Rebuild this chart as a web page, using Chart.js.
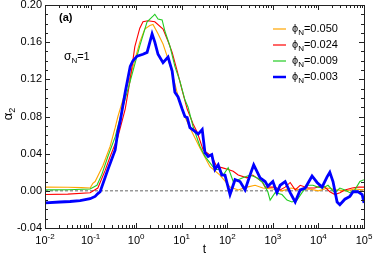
<!DOCTYPE html>
<html>
<head>
<meta charset="utf-8">
<script src="https://cdn.jsdelivr.net/npm/chart.js@4/dist/chart.umd.min.js"></script>
<style>
  body { margin: 0; background: #fff; }
  canvas { display: block; }
</style>
</head>
<body>
<canvas id="alpha-chart" width="374" height="258"></canvas>
<script>
// values: log10(t) and alpha_2 for each phi_N
const phiLabels = ["0.050", "0.024", "0.009", "0.003"];
const lineColors = ["#ffa500", "#ff0000", "#22cc22", "#0000ff"];

const logT050 = [-2, -1.5, -1.2, -1.01, -0.95, -0.90, -0.73, -0.57, -0.46, -0.40, -0.29, -0.13, 0.08, 0.19, 0.30, 0.37, 0.48, 0.59, 0.70, 0.81, 0.92, 1.03, 1.18, 1.40, 1.62, 1.84, 2.06, 2.24, 2.43, 2.61, 2.78, 3.0, 3.2, 3.4, 3.6, 3.8, 4.0, 4.2, 4.4, 4.6, 4.8, 5.0];
const alpha050 = [0.004, 0.0038, 0.0035, 0.003, 0.008, 0.010, 0.027, 0.048, 0.068, 0.080, 0.098, 0.123, 0.160, 0.174, 0.178, 0.179, 0.169, 0.158, 0.142, 0.123, 0.102, 0.084, 0.068, 0.046, 0.026, 0.017, 0.004, 0.001, 0.004, 0.006, 0.003, 0.002, 0.000, 0.003, 0.001, 0.002, 0.000, 0.003, 0.001, 0.000, 0.002, 0.001];

const logT024 = [-2, -1.5, -1.01, -0.84, -0.68, -0.57, -0.40, -0.24, -0.13, -0.03, 0.08, 0.15, 0.26, 0.41, 0.59, 0.70, 0.79, 0.90, 1.01, 1.12, 1.25, 1.34, 1.47, 1.66, 1.77, 1.88, 2.02, 2.13, 2.24, 2.43, 2.56, 2.76, 2.83, 3.05, 3.16, 3.27, 3.38, 3.49, 3.60, 3.77, 3.92, 4.10, 4.25, 4.36, 4.47, 4.58, 4.74, 4.87, 5.0];
const alpha024 = [-0.004, -0.0035, -0.002, 0.003, 0.022, 0.037, 0.058, 0.088, 0.120, 0.155, 0.175, 0.182, 0.183, 0.182, 0.174, 0.161, 0.149, 0.129, 0.108, 0.088, 0.072, 0.063, 0.044, 0.037, 0.026, 0.025, 0.023, 0.021, 0.017, 0.014, 0.017, 0.010, 0.004, 0.004, 0.001, 0.004, 0.009, 0.001, 0.006, 0.003, 0.003, 0.006, -0.001, -0.004, -0.002, 0.001, 0.003, 0.004, 0.004];

const logT009 = [-2, -1.5, -1.01, -0.86, -0.75, -0.62, -0.46, -0.29, -0.13, 0.08, 0.24, 0.37, 0.41, 0.48, 0.57, 0.63, 0.74, 0.85, 0.96, 1.07, 1.14, 1.25, 1.40, 1.51, 1.62, 1.73, 1.84, 1.91, 2.02, 2.13, 2.24, 2.34, 2.50, 2.65, 2.78, 2.89, 2.94, 3.05, 3.20, 3.31, 3.42, 3.53, 3.64, 3.77, 3.88, 3.99, 4.10, 4.21, 4.36, 4.47, 4.58, 4.69, 4.80, 4.91, 5.0];
const alpha009 = [0.001, 0.0012, 0.002, 0.006, 0.018, 0.037, 0.058, 0.090, 0.118, 0.156, 0.182, 0.188, 0.190, 0.185, 0.184, 0.172, 0.156, 0.134, 0.118, 0.098, 0.090, 0.069, 0.048, 0.037, 0.030, 0.023, 0.023, 0.017, 0.025, 0.010, 0.012, 0.014, 0.017, 0.014, 0.009, -0.001, -0.010, -0.002, -0.004, -0.010, -0.012, -0.010, -0.002, 0.006, 0.006, 0.004, 0.003, 0.006, -0.002, 0.003, 0.001, -0.002, 0.001, 0.010, 0.012];

const logT003 = [-2, -1.67, -1.45, -1.23, -1.01, -0.90, -0.84, -0.79, -0.62, -0.46, -0.40, -0.35, -0.24, -0.13, -0.07, 0.02, 0.15, 0.24, 0.35, 0.41, 0.48, 0.59, 0.70, 0.79, 0.85, 0.92, 1.01, 1.07, 1.12, 1.18, 1.29, 1.36, 1.45, 1.51, 1.58, 1.66, 1.73, 1.80, 1.88, 1.95, 2.06, 2.17, 2.28, 2.39, 2.50, 2.58, 2.72, 2.83, 2.89, 3.00, 3.09, 3.16, 3.27, 3.38, 3.49, 3.60, 3.71, 3.86, 3.97, 4.08, 4.19, 4.25, 4.32, 4.41, 4.47, 4.58, 4.69, 4.76, 4.87, 4.96, 5.00];
const alpha003 = [-0.013, -0.012, -0.0115, -0.0105, -0.0085, -0.006, -0.003, -0.001, 0.023, 0.044, 0.064, 0.075, 0.106, 0.134, 0.140, 0.145, 0.147, 0.149, 0.169, 0.160, 0.147, 0.138, 0.144, 0.129, 0.106, 0.101, 0.088, 0.080, 0.079, 0.068, 0.064, 0.061, 0.066, 0.041, 0.037, 0.039, 0.023, 0.028, 0.017, 0.017, -0.004, 0.012, 0.010, 0.001, 0.017, 0.028, 0.014, 0.010, 0.005, 0.010, -0.002, 0.006, 0.010, -0.002, -0.012, 0.001, 0.003, 0.016, 0.009, 0.004, 0.015, 0.020, 0.010, -0.012, -0.015, -0.009, -0.006, -0.001, -0.001, -0.004, -0.013];

// axis ticks
const xExponents = [-2, -1, 0, 1, 2, 3, 4, 5];
const yTickValues = [-0.04, 0, 0.04, 0.08, 0.12, 0.16, 0.2];
const yTickLabels = ["-0.04", "0.00", "0.04", "0.08", "0.12", "0.16", "0.20"];

const FONT = "'Liberation Sans', Arial, Helvetica, sans-serif";

function toPoints(logT, values) {
  return logT.map((lt, i) => ({ x: Math.pow(10, lt), y: values[i] }));
}

const series = [
  toPoints(logT050, alpha050),
  toPoints(logT024, alpha024),
  toPoints(logT009, alpha009),
  toPoints(logT003, alpha003),
];

// text with a subscript (or superscript when shift < 0)
function drawScripted(ctx, parts, x, y, align) {
  let width = 0;
  parts.forEach((p) => {
    ctx.font = p.font;
    p.w = ctx.measureText(p.text).width;
    width += p.w;
  });
  let cx = align === "center" ? x - width / 2 : align === "right" ? x - width : x;
  parts.forEach((p) => {
    ctx.font = p.font;
    ctx.textAlign = "left";
    ctx.fillText(p.text, cx, y + (p.shift || 0));
    cx += p.w;
  });
}

const framePlugin = {
  id: "frame",
  afterDraw(chart) {
    const { ctx, chartArea: a, scales } = chart;
    const x = scales.x;
    const y = scales.y;
    ctx.save();
    ctx.strokeStyle = "#222";
    ctx.lineWidth = 1;
    ctx.strokeRect(Math.round(a.left) + 0.5, Math.round(a.top) + 0.5,
      Math.round(a.right - a.left), Math.round(a.bottom - a.top));

    ctx.beginPath();
    // x ticks, major and log minors, bottom and top
    xExponents.forEach((e) => {
      for (let m = 1; m <= 9; m++) {
        if (e === 5 && m > 1) break;
        const px = Math.round(x.getPixelForValue(m * Math.pow(10, e))) + 0.5;
        const len = m === 1 ? 5 : 3;
        ctx.moveTo(px, a.bottom);
        ctx.lineTo(px, a.bottom - len);
        ctx.moveTo(px, a.top);
        ctx.lineTo(px, a.top + len);
      }
    });
    // y ticks every 0.01, major every 0.04
    for (let i = 0; i <= 24; i++) {
      const v = -0.04 + i * 0.01;
      const py = Math.round(y.getPixelForValue(v)) + 0.5;
      const len = i % 4 === 0 ? 5 : 3;
      ctx.moveTo(a.left, py);
      ctx.lineTo(a.left + len, py);
      ctx.moveTo(a.right, py);
      ctx.lineTo(a.right - len, py);
    }
    ctx.stroke();

    ctx.fillStyle = "#000";
    ctx.textBaseline = "middle";
    // y labels
    ctx.font = "11px " + FONT;
    ctx.textAlign = "right";
    yTickValues.forEach((v, i) => {
      ctx.fillText(yTickLabels[i], a.left - 3, y.getPixelForValue(v));
    });
    // x labels 10^e
    ctx.textBaseline = "alphabetic";
    xExponents.forEach((e) => {
      const px = x.getPixelForValue(Math.pow(10, e));
      drawScripted(ctx, [
        { text: "10", font: "11px " + FONT },
        { text: e < 0 ? "-" + Math.abs(e) : String(e), font: "8px " + FONT, shift: -5 },
      ], px, a.bottom + 16, "center");
    });

    // axis titles
    ctx.font = "12px " + FONT;
    ctx.textAlign = "center";
    ctx.fillText("t", (a.left + a.right) / 2, 253);
    ctx.save();
    ctx.translate(12, 114);
    ctx.rotate(-Math.PI / 2);
    ctx.textBaseline = "alphabetic";
    drawScripted(ctx, [
      { text: "\u03b1", font: "13px " + FONT },
      { text: "2", font: "9px " + FONT, shift: 3 },
    ], 0, 0, "center");
    ctx.restore();

    // panel tag and sigma label
    ctx.textBaseline = "middle";
    ctx.font = "bold 11px " + FONT;
    ctx.textAlign = "left";
    ctx.fillText("(a)", 59, 18);
    drawScripted(ctx, [
      { text: "\u03c3", font: "12px " + FONT },
      { text: "N", font: "8px " + FONT, shift: 4 },
      { text: "=1", font: "11px " + FONT },
    ], 64, 57, "left");

    // legend
    phiLabels.forEach((lab, i) => {
      const ly = 29 + i * 16;
      ctx.strokeStyle = lineColors[i];
      ctx.lineWidth = i === 3 ? 2.5 : 1.2;
      ctx.beginPath();
      ctx.moveTo(273, ly);
      ctx.lineTo(286, ly);
      ctx.stroke();
      drawScripted(ctx, [
        { text: "\u03d5", font: "11px " + FONT },
        { text: "N", font: "8px " + FONT, shift: 4 },
        { text: "=" + lab, font: "11px " + FONT },
      ], 292, ly, "left");
    });
    ctx.restore();
  },
};

const datasets = series.map((pts, i) => ({
  label: "phi_N=" + phiLabels[i],
  data: pts,
  borderColor: lineColors[i],
  borderWidth: i === 3 ? 2.8 : 1.1,
  pointRadius: 0,
  tension: 0,
  fill: false,
  order: 3 - i,
}));

// dashed zero line behind the curves
datasets.push({
  label: "zero",
  data: [{ x: 0.01, y: 0 }, { x: 1e5, y: 0 }],
  borderColor: "#666",
  borderWidth: 1,
  borderDash: [3, 2],
  pointRadius: 0,
  order: 10,
});

new Chart(document.querySelector("#alpha-chart").getContext("2d"), {
  type: "line",
  data: { datasets },
  options: {
    responsive: false,
    animation: false,
    layout: { padding: { left: 45, top: 5, right: 10, bottom: 30 } },
    scales: {
      x: { type: "logarithmic", min: 0.01, max: 1e5, display: false },
      y: { type: "linear", min: -0.04, max: 0.2, display: false },
    },
    plugins: { legend: { display: false }, tooltip: { enabled: false } },
  },
  plugins: [framePlugin],
});
</script>
</body>
</html>
